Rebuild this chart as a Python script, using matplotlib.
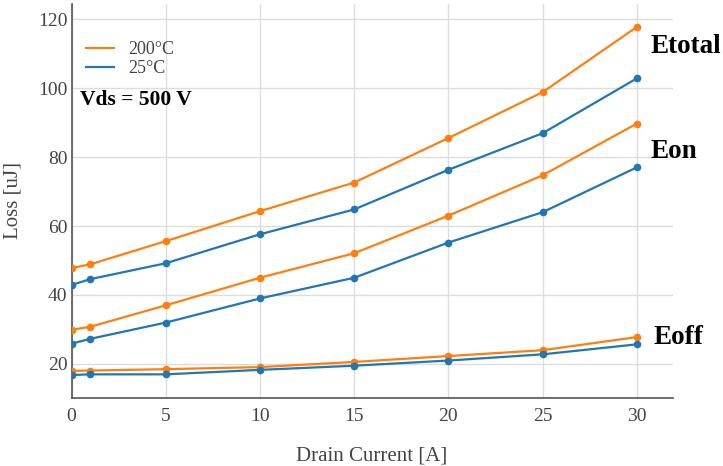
import matplotlib
matplotlib.use("Agg")
import matplotlib.pyplot as plt
from matplotlib.lines import Line2D

# Drain current sweep [A]
current = [0, 1, 5, 10, 15, 20, 25, 30]

# Switching losses [uJ] at 200 °C
etotal_200 = [47.8, 48.9, 55.6, 64.3, 72.6, 85.5, 98.8, 117.7]
eon_200 = [29.9, 30.8, 37.0, 45.0, 52.1, 63.0, 74.7, 89.7]
eoff_200 = [18.0, 18.1, 18.5, 19.1, 20.6, 22.3, 24.0, 27.8]

# Switching losses [uJ] at 25 °C
etotal_25 = [42.9, 44.6, 49.2, 57.6, 64.8, 76.3, 86.9, 102.8]
eon_25 = [25.9, 27.3, 32.0, 39.0, 45.0, 55.2, 64.0, 77.0]
eoff_25 = [16.8, 17.0, 17.0, 18.3, 19.5, 21.0, 22.8, 25.7]

x_ticks = [0, 5, 10, 15, 20, 25, 30]
y_ticks = [20, 40, 60, 80, 100, 120]

series_labels = ["200°C", "25°C"]
curve_names = ["Etotal", "Eon", "Eoff"]

ORANGE = "#ff7f0e"
BLUE = "#1f77b4"
SERIF = ["Liberation Serif", "DejaVu Serif"]
GRAY_TEXT = "#444444"

plt.rcParams["font.family"] = SERIF

fig = plt.figure(figsize=(7.23, 4.66), dpi=100)
ax = fig.add_axes([0.0989, 0.1459, 0.9304 - 0.0989, 0.9914 - 0.1459])

for ys in (etotal_200, eon_200, eoff_200):
    ax.plot(current, ys, color=ORANGE, lw=1.6, marker="o", ms=4.5, zorder=3)
for ys in (etotal_25, eon_25, eoff_25):
    ax.plot(current, ys, color=BLUE, lw=1.6, marker="o", ms=4.5, zorder=3)

ax.set_xlim(0, 31.9)
ax.set_ylim(10.14, 124.35)
ax.set_xticks(x_ticks)
ax.set_yticks(y_ticks)
ax.grid(True, color="#dddddd", lw=1.0, zorder=0)
ax.set_axisbelow(True)
ax.tick_params(axis="x", length=0, labelsize=14, labelcolor=GRAY_TEXT, pad=7)
ax.tick_params(axis="y", length=0, labelsize=14, labelcolor=GRAY_TEXT, pad=3)
for side in ("top", "right"):
    ax.spines[side].set_visible(False)
for side in ("left", "bottom"):
    ax.spines[side].set_color("#555555")
    ax.spines[side].set_linewidth(1.2)

ax.set_xlabel("Drain Current [A]", fontsize=15, color=GRAY_TEXT, labelpad=16)
ax.set_ylabel("Loss [uJ]", fontsize=15, color=GRAY_TEXT)
ax.yaxis.set_label_coords(-0.0823, 0.5025)

# Curve names at the right end
label_pos = {"Etotal": (30.73, 112.0), "Eon": (30.73, 81.7), "Eoff": (30.9, 27.8)}
for name in curve_names:
    xx, yy = label_pos[name]
    ax.text(xx, yy, name, fontsize=19.5, fontweight="bold", color="black",
            va="center", ha="left", clip_on=False)

ax.text(0.45, 96.5, "Vds = 500 V", fontsize=15.5, fontweight="bold",
        color="black", va="center", ha="left")

handles = [Line2D([], [], color=ORANGE, lw=1.6), Line2D([], [], color=BLUE, lw=1.6)]
leg = ax.legend(handles, series_labels, loc="upper left",
                bbox_to_anchor=(86 / 723, 1 - 41 / 466), bbox_transform=fig.transFigure,
                frameon=False, fontsize=13, handlelength=1.55, handletextpad=0.8,
                labelspacing=0.12, borderpad=0, borderaxespad=0)
for t in leg.get_texts():
    t.set_color(GRAY_TEXT)

fig.savefig("out.png", dpi=100)
